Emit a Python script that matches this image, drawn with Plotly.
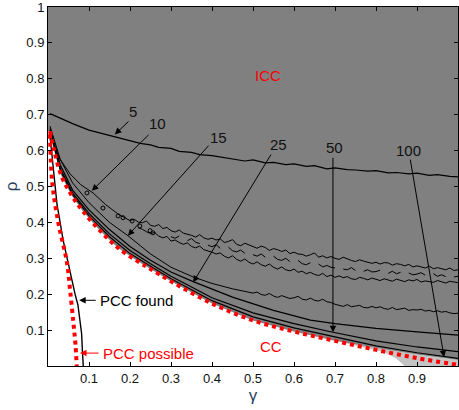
import plotly.graph_objects as go

# ---- ICC / CC boundary (red dashed) ----
gamma_bnd = [0.005, 0.015, 0.033, 0.058, 0.086, 0.127, 0.171, 0.224, 0.249, 0.3, 0.4, 0.5, 0.6, 0.7, 0.8, 0.9, 1.0]
rho_bnd = [0.654, 0.6, 0.529, 0.475, 0.43, 0.377, 0.329, 0.288, 0.271, 0.236, 0.174, 0.127, 0.096, 0.07, 0.045, 0.022, 0.003]

# lower edge of the dark ICC region
gamma_dark = [0.005, 0.015, 0.033, 0.058, 0.086, 0.127, 0.171, 0.224, 0.249, 0.3, 0.4, 0.5, 0.6, 0.7, 0.78, 0.8, 0.9, 1.0]
rho_dark = [0.654, 0.6, 0.529, 0.475, 0.43, 0.377, 0.329, 0.288, 0.271, 0.236, 0.174, 0.127, 0.096, 0.07, 0.054, 0.05, 0.032, 0.017]

# lower edge of the light grey band
gamma_light = [0.7, 0.78, 0.82, 0.85, 0.87, 1.0]
rho_light = [0.07, 0.05, 0.038, 0.02, 0.0, 0.0]

# ---- PCC curves ----
gamma_pcc_possible = [0.005, 0.01, 0.025, 0.046, 0.054, 0.062, 0.067, 0.07]
rho_pcc_possible = [0.645, 0.515, 0.4, 0.29, 0.21, 0.12, 0.06, 0.0]

gamma_pcc_found = [0.005, 0.01, 0.022, 0.037, 0.049, 0.058, 0.066, 0.073, 0.077, 0.082, 0.084, 0.086]
rho_pcc_found = [0.64, 0.58, 0.45, 0.35, 0.285, 0.24, 0.2, 0.17, 0.13, 0.09, 0.04, 0.0]

# ---- iteration contours ----
gamma_c5 = [0.005, 0.03, 0.06, 0.1, 0.13, 0.15, 0.175, 0.2, 0.225, 0.25, 0.27, 0.3, 0.32, 0.35, 0.37, 0.4,
            0.43, 0.45, 0.48, 0.5, 0.53, 0.55, 0.58, 0.6, 0.63, 0.65, 0.68, 0.7, 0.73, 0.75, 0.78, 0.8,
            0.83, 0.85, 0.88, 0.9, 0.93, 0.95, 0.98, 1.0]
rho_c5 = [0.703, 0.69, 0.675, 0.657, 0.648, 0.641, 0.633, 0.627, 0.62, 0.616, 0.609, 0.606, 0.598, 0.595, 0.589, 0.586,
          0.58, 0.578, 0.571, 0.574, 0.566, 0.567, 0.561, 0.563, 0.556, 0.558, 0.549, 0.552, 0.547, 0.546, 0.543, 0.544,
          0.538, 0.539, 0.535, 0.537, 0.531, 0.533, 0.528, 0.527]

# 10 iterations: smooth head, then ragged upper edge of the band (step 0.01 from 0.20)
gamma_c10 = [0.005, 0.03, 0.054, 0.08, 0.11, 0.14, 0.17] + [round(0.20 + 0.01 * i, 2) for i in range(81)]
rho_c10 = [0.645, 0.575, 0.535, 0.505, 0.482, 0.45, 0.424,
           .405, .409, .401, .399, .404, .392, .389, .394, .383, .386,
           .377, .373, .379, .37, .368, .364, .359, .366, .357, .353,
           .356, .351, .354, .344, .347, .352, .339, .335, .342, .338,
           .333, .328, .334, .33, .322, .327, .324, .319, .323, .313,
           .317, .312, .311, .306, .31, .315, .303, .307, .301, .305,
           .3, .297, .303, .298, .294, .291, .296, .292, .29, .286,
           .289, .284, .288, .287, .281, .285, .283, .279, .283, .276,
           .279, .277, .273, .278, .271, .274, .272, .268, .273, .266, .268]

# 10 iterations: lower edge of the band (0.22 .. 1.00)
gamma_c10b = [round(0.22 + 0.01 * i, 2) for i in range(79)]
rho_c10b = [.385, .381, .374, .369, .372, .362, .357, .361, .348, .351,
            .344, .339, .343, .333, .329, .334, .324, .321, .317, .312,
            .315, .306, .301, .307, .297, .292, .298, .289, .284, .29,
            .282, .278, .284, .275, .27, .276, .268, .265, .27, .261,
            .264, .257, .261, .255, .252, .258, .249, .253, .247, .251,
            .246, .249, .243, .241, .247, .244, .24, .245, .242, .238,
            .243, .239, .236, .242, .238, .235, .24, .237, .241, .234,
            .237, .235, .233, .238, .234, .231, .236, .233, .232]

# 10 iterations: broken fragments inside the band (0.30 .. 1.00)
gamma_c10c = [round(0.30 + 0.01 * i, 2) for i in range(71)]
rho_c10c = [.36, .356, .362, None, .349, .355, .345, .341, None, .337,
            .332, .338, .328, None, .331, .321, .318, .323, .314, None,
            .31, .306, .312, .303, None, .306, .297, .294, .3, .291,
            None, .294, .285, .282, .288, None, .284, .276, .28, .275,
            .273, None, .27, .268, .274, .266, None, .264, .268, .262,
            .263, .267, None, .258, .264, .257, .261, None, .259, .254,
            .256, .26, .253, None, .257, .25, .254, .249, None, .248, .25]

# 15 iterations: smooth head then ragged tail (step 0.01 from 0.50)
gamma_c15 = [0.005, 0.03, 0.06, 0.1, 0.15, 0.195, 0.249, 0.3, 0.354, 0.4, 0.45] + [round(0.50 + 0.01 * i, 2) for i in range(51)]
rho_c15 = [0.668, 0.575, 0.51, 0.455, 0.4, 0.363, 0.313, 0.275, 0.248, 0.23, 0.215,
           .203, .206, .199, .197, .202, .195, .191, .196, .193, .188,
           .19, .194, .186, .184, .189, .183, .181, .186, .179, .177,
           .172, .169, .166, .171, .165, .167, .169, .163, .162, .166,
           .162, .165, .16, .158, .163, .157, .159, .161, .155, .157,
           .156, .158, .153, .155, .151, .154, .15, .152, .148, .146, .147]

gamma_c25 = [0.005, 0.03, 0.06, 0.1, 0.15, 0.2, 0.249, 0.3, 0.354, 0.45, 0.55, 0.64, 0.7, 0.8, 0.9, 1.0]
rho_c25 = [0.662, 0.56, 0.49, 0.435, 0.38, 0.333, 0.295, 0.262, 0.235, 0.192, 0.155, 0.128, 0.118, 0.105, 0.095, 0.086]

gamma_c50 = [0.005, 0.03, 0.06, 0.1, 0.15, 0.2, 0.25, 0.3, 0.4, 0.5, 0.6, 0.695, 0.8, 0.9, 1.0]
rho_c50 = [0.658, 0.55, 0.482, 0.425, 0.368, 0.322, 0.285, 0.25, 0.19, 0.148, 0.118, 0.094, 0.07, 0.053, 0.04]

gamma_c100 = [0.005, 0.03, 0.06, 0.1, 0.15, 0.2, 0.25, 0.3, 0.4, 0.5, 0.6, 0.7, 0.8, 0.9, 0.966, 1.0]
rho_c100 = [0.656, 0.545, 0.477, 0.418, 0.36, 0.313, 0.278, 0.243, 0.182, 0.137, 0.106, 0.08, 0.056, 0.037, 0.026, 0.021]

# small closed contour islands along the 10-iteration curve
gamma_islands = [0.095, 0.134, 0.171, 0.183, 0.205, 0.224, 0.249, 0.256]
rho_islands = [0.482, 0.44, 0.418, 0.413, 0.404, 0.39, 0.377, 0.371]

# contour labels and arrow geometry: (label, text pos, arrow tail, arrow head)
contour_labels = ["5", "10", "15", "25", "50", "100"]
label_pos = [(0.207, 0.709), (0.268, 0.676), (0.415, 0.637), (0.561, 0.618), (0.698, 0.609), (0.88, 0.601)]
arrow_tail = [(0.2, 0.685), (0.249, 0.648), (0.395, 0.618), (0.546, 0.593), (0.695, 0.584), (0.883, 0.579)]
arrow_head = [(0.163, 0.645), (0.107, 0.488), (0.195, 0.363), (0.354, 0.233), (0.695, 0.094), (0.966, 0.025)]

RED = "#ff0000"
DARK = "#808080"
LIGHT = "#c4c4c4"
FONT = "Liberation Sans, Arial, sans-serif"

fig = go.Figure()

# light grey band near the CC edge
fig.add_trace(go.Scatter(
    x=gamma_light + gamma_dark[::-1], y=rho_light + rho_dark[::-1],
    fill="toself", fillcolor=LIGHT, line=dict(width=0), mode="lines",
    hoverinfo="skip", showlegend=False))

# dark ICC region
fig.add_trace(go.Scatter(
    x=[0.0] + gamma_dark + [1.0, 0.0], y=[rho_dark[0]] + rho_dark + [1.0, 1.0],
    fill="toself", fillcolor=DARK, line=dict(width=0), mode="lines",
    hoverinfo="skip", showlegend=False))

smooth = dict(color="black", width=1.2)
ragged = dict(color="black", width=1.0)
for gx, ry, st in [(gamma_c5, rho_c5, smooth), (gamma_c10, rho_c10, ragged), (gamma_c10b, rho_c10b, ragged),
                   (gamma_c10c, rho_c10c, ragged), (gamma_c15, rho_c15, ragged), (gamma_c25, rho_c25, smooth),
                   (gamma_c50, rho_c50, smooth), (gamma_c100, rho_c100, smooth)]:
    fig.add_trace(go.Scatter(x=gx, y=ry, mode="lines", line=st,
                             hoverinfo="skip", showlegend=False))

fig.add_trace(go.Scatter(x=gamma_islands, y=rho_islands, mode="markers",
                         marker=dict(symbol="circle-open", size=4, color="black", line=dict(width=1)),
                         hoverinfo="skip", showlegend=False))

# PCC found (black) and PCC possible / ICC-CC boundary (red dashed)
fig.add_trace(go.Scatter(x=gamma_pcc_found, y=rho_pcc_found, mode="lines",
                         line=dict(color="black", width=1.4), showlegend=False))
red_dash = dict(color=RED, width=4, dash="4px,4px")
fig.add_trace(go.Scatter(x=gamma_bnd, y=rho_bnd, mode="lines", line=dict(shape="spline", **red_dash),
                         showlegend=False))
fig.add_trace(go.Scatter(x=gamma_pcc_possible, y=rho_pcc_possible, mode="lines",
                         line=dict(shape="spline", **red_dash), showlegend=False))

annotations = []
for lab, (tx, ty), (ax_, ay_), (hx, hy) in zip(contour_labels, label_pos, arrow_tail, arrow_head):
    annotations.append(dict(x=tx, y=ty, text=lab, showarrow=False,
                            font=dict(size=15, color="#111111", family=FONT)))
    annotations.append(dict(x=hx, y=hy, ax=ax_, ay=ay_, axref="x", ayref="y", text="",
                            showarrow=True, arrowhead=2, arrowsize=1.3, arrowwidth=1,
                            arrowcolor="black"))

annotations += [
    dict(x=0.537, y=0.81, text="ICC", showarrow=False, font=dict(size=15, color=RED, family=FONT)),
    dict(x=0.544, y=0.053, text="CC", showarrow=False, font=dict(size=15, color=RED, family=FONT)),
    dict(x=0.122, y=0.183, text="PCC found", showarrow=False, xanchor="left",
         font=dict(size=15, color="black", family=FONT)),
    dict(x=0.076, y=0.183, ax=0.12, ay=0.183, axref="x", ayref="y", text="", showarrow=True,
         arrowhead=2, arrowsize=1.3, arrowwidth=1, arrowcolor="black"),
    dict(x=0.129, y=0.036, text="PCC possible", showarrow=False, xanchor="left",
         font=dict(size=15, color=RED, family=FONT)),
    dict(x=0.078, y=0.036, ax=0.127, ay=0.036, axref="x", ayref="y", text="", showarrow=True,
         arrowhead=2, arrowsize=1.3, arrowwidth=1, arrowcolor=RED),
]

axis_common = dict(showline=True, linecolor="black", linewidth=1, mirror="allticks",
                   ticks="inside", ticklen=4, tickcolor="black", showgrid=False, zeroline=False,
                   ticklabeloverflow="allow",
                   tickfont=dict(size=13, color="#111111", family=FONT))

fig.update_layout(
    width=459, height=410,
    margin=dict(l=48, r=0, t=5, b=44),
    paper_bgcolor="white", plot_bgcolor="white",
    xaxis=dict(range=[0, 1.0], tickvals=[0.1, 0.2, 0.3, 0.4, 0.5, 0.6, 0.7, 0.8, 0.9],
               ticktext=["0.1", "0.2", "0.3", "0.4", "0.5", "0.6", "0.7", "0.8", "0.9"],
               title=dict(text="γ", font=dict(size=17, family=FONT), standoff=0), **axis_common),
    yaxis=dict(range=[0, 1.0], tickvals=[0.1, 0.2, 0.3, 0.4, 0.5, 0.6, 0.7, 0.8, 0.9, 1.0],
               ticktext=["0.1", "0.2", "0.3", "0.4", "0.5", "0.6", "0.7", "0.8", "0.9", "1"],
               title=dict(text="ρ", font=dict(size=17, family=FONT), standoff=4), **axis_common),
    annotations=annotations,
    showlegend=False,
)

fig.write_html("out.html")
